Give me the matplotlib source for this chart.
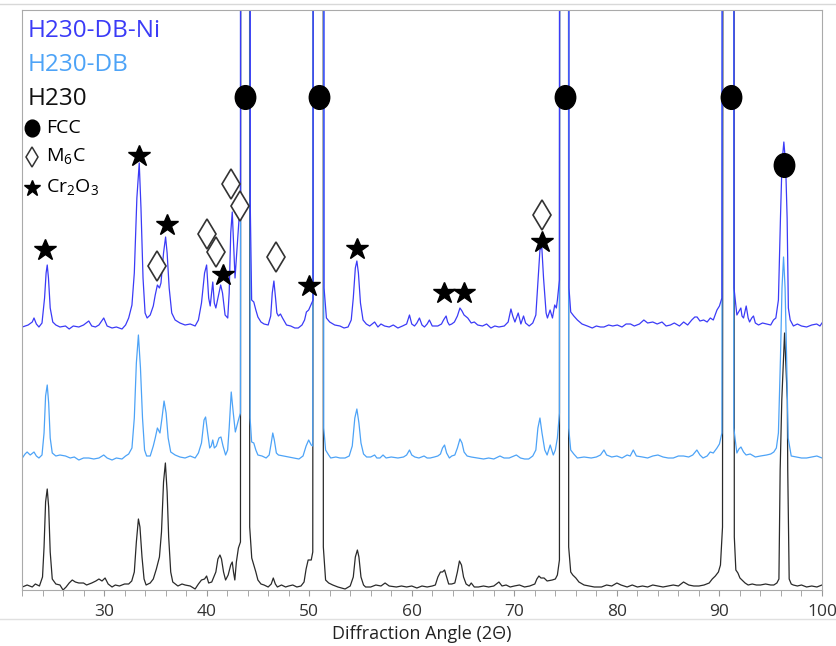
import matplotlib
matplotlib.use("Agg")
import matplotlib.pyplot as plt
from matplotlib.lines import Line2D
from matplotlib.markers import MarkerStyle
from matplotlib.transforms import Affine2D

plt.rcParams['font.family'] = ['Open Sans', 'DejaVu Sans']
plt.rcParams['mathtext.fontset'] = 'custom'
plt.rcParams['mathtext.rm'] = 'Open Sans'

# (2theta, intensity above own baseline)
H230_DB_NI = [
    (22.03, 1), (22.6, 3), (23.0, 6), (23.17, 10), (23.4, 4), (23.65, 1), (23.95, 5),
    (24.2, 30), (24.35, 55), (24.46, 63), (24.58, 50), (24.75, 20), (25.0, 6), (25.3, 3),
    (25.7, 1), (26.24, 2), (26.6, -1), (27.0, 2), (27.54, 1), (28.0, 3), (28.51, 7), (28.8, 2),
    (29.16, 1), (29.5, 3), (29.97, 10), (30.3, 2), (30.78, 0), (31.2, 1), (31.75, -1), (32.1, 3),
    (32.4, 10), (32.72, 23), (32.95, 55), (33.2, 130), (33.43, 165), (33.6, 120), (33.8, 50),
    (34.0, 15), (34.2, 10), (34.5, 13), (34.8, 22), (34.99, 33), (35.2, 43), (35.4, 40),
    (35.55, 45), (35.8, 75), (36.0, 91), (36.15, 75), (36.35, 40), (36.6, 15), (36.93, 8),
    (37.4, 5), (37.9, 3), (38.4, 4), (38.88, 2), (39.2, 8), (39.5, 25), (39.8, 55), (40.0, 63),
    (40.2, 30), (40.35, 22), (40.6, 46), (40.75, 25), (40.9, 20), (41.2, 35), (41.37, 43),
    (41.55, 35), (41.8, 13), (42.06, 10), (42.2, 35), (42.35, 95), (42.5, 116), (42.65, 80),
    (42.77, 50), (42.9, 70), (43.1, 101), (43.3, 130), (43.36, 3000), (44.2, 3000), (44.26, 120),
    (44.39, 28), (44.6, 26), (44.8, 18), (45.0, 11), (45.3, 6), (45.6, 4), (46.0, 3), (46.25, 12),
    (46.4, 35), (46.56, 47), (46.72, 30), (46.85, 15), (47.0, 12), (47.2, 14), (47.4, 10),
    (47.79, 3), (48.2, 2), (48.6, 0), (48.93, 0), (49.3, 3), (49.55, 8), (49.73, 16), (49.95, 18),
    (50.16, 23), (50.38, 28), (50.48, 3000), (51.4, 3000), (51.45, 40), (51.68, 10), (52.0, 6),
    (52.49, 3), (53.0, 2), (53.4, 0), (53.79, 1), (54.1, 8), (54.3, 30), (54.5, 60), (54.65, 67),
    (54.8, 55), (55.0, 25), (55.25, 8), (55.57, 4), (55.9, 2), (56.38, 6), (56.7, 1), (57.0, 4),
    (57.35, 2), (57.8, 1), (58.2, 3), (58.65, 0), (59.1, 2), (59.5, 4), (59.78, 13), (60.0, 4),
    (60.27, 2), (60.5, 5), (60.75, 10), (61.0, 3), (61.24, 1), (61.5, 4), (61.72, 8), (62.0, 2),
    (62.54, 2), (62.9, 4), (63.1, 8), (63.35, 12), (63.5, 6), (63.67, 3), (63.9, 4), (64.16, 6),
    (64.45, 12), (64.7, 20), (64.9, 17), (65.1, 13), (65.46, 10), (65.8, 5), (66.1, 6),
    (66.43, 3), (66.9, 2), (67.3, 4), (67.72, 0), (68.1, 2), (68.5, 1), (69.02, 2), (69.4, 6),
    (69.67, 19), (69.85, 12), (70.06, 6), (70.38, 15), (70.64, 4), (70.9, 12), (71.1, 5),
    (71.45, 2), (71.8, 5), (72.1, 13), (72.3, 45), (72.5, 78), (72.68, 81), (72.85, 50),
    (72.97, 33), (73.1, 15), (73.23, 10), (73.49, 18), (73.72, 10), (73.94, 23), (74.1, 20),
    (74.2, 28), (74.4, 48), (74.47, 3000), (75.28, 3000), (75.33, 40), (75.5, 16), (75.8, 12),
    (76.15, 8), (76.6, 4), (77.12, 2), (77.6, 0), (78.0, 2), (78.4, 1), (78.74, 1), (79.2, 3),
    (79.6, 2), (80.04, 3), (80.5, 1), (80.9, 4), (81.33, 4), (81.7, 2), (82.2, 4), (82.63, 8),
    (83.0, 5), (83.5, 6), (83.93, 4), (84.4, 6), (84.8, 2), (85.22, 3), (85.6, 5), (86.1, 2),
    (86.51, 6), (86.9, 3), (87.3, 8), (87.6, 11), (87.82, 11), (88.1, 7), (88.46, 8), (88.8, 6),
    (89.11, 10), (89.4, 8), (89.76, 18), (90.0, 22), (90.24, 30), (90.44, 3000), (91.36, 3000),
    (91.42, 40), (91.7, 13), (92.09, 20), (92.2, 12), (92.35, 10), (92.61, 22), (92.8, 10),
    (92.94, 6), (93.15, 10), (93.32, 12), (93.5, 5), (93.81, 3), (94.2, 5), (94.62, 4), (95.0, 3),
    (95.27, 8), (95.5, 10), (95.75, 28), (95.95, 110), (96.1, 165), (96.28, 186), (96.45, 165),
    (96.6, 110), (96.72, 20), (96.9, 8), (97.21, 2), (97.6, 4), (98.0, 2), (98.5, 1), (99.0, 3),
    (99.48, 4), (99.8, 2), (100, 5),
]

H230_DB = [
    (22.03, 0), (22.3, 4), (22.5, 6), (22.8, 3), (23.17, 6), (23.4, 2), (23.65, 0), (23.95, 3),
    (24.15, 25), (24.3, 62), (24.46, 73), (24.6, 55), (24.75, 20), (24.95, 5), (25.3, 2),
    (25.7, 3), (26.24, 2), (26.7, 0), (27.1, 1), (27.54, -2), (28.0, 0), (28.51, 0), (29.0, -1),
    (29.5, 0), (29.97, 3), (30.3, 0), (30.78, -2), (31.2, 0), (31.75, -1), (32.1, 2), (32.4, 4),
    (32.72, 10), (32.95, 40), (33.15, 95), (33.35, 123), (33.55, 90), (33.75, 40), (33.95, 8),
    (34.15, 2), (34.5, 2), (34.8, 12), (34.99, 20), (35.2, 30), (35.45, 25), (35.65, 40),
    (35.85, 57), (36.05, 45), (36.25, 20), (36.5, 6), (36.93, 3), (37.4, 1), (37.9, 0),
    (38.4, 2), (38.88, 0), (39.2, 5), (39.5, 15), (39.75, 38), (39.9, 41), (40.1, 25),
    (40.3, 10), (40.45, 12), (40.6, 18), (40.75, 10), (40.95, 12), (41.2, 20), (41.4, 21),
    (41.6, 12), (41.85, 3), (42.05, 8), (42.2, 30), (42.4, 66), (42.6, 45), (42.8, 26),
    (42.95, 32), (43.1, 38), (43.3, 45), (43.38, 3000), (44.18, 3000), (44.24, 40), (44.39, 16),
    (44.6, 15), (44.8, 8), (45.0, 3), (45.4, 2), (45.8, 0), (46.1, 3), (46.3, 15), (46.45, 25),
    (46.6, 18), (46.8, 5), (47.0, 3), (47.5, 2), (48.0, 1), (48.5, 0), (49.0, -1), (49.4, 2),
    (49.7, 12), (49.95, 18), (50.2, 13), (50.35, 12), (50.5, 3000), (51.37, 3000), (51.42, 30),
    (51.6, 8), (51.9, 3), (52.1, 0), (52.6, 1), (53.0, 0), (53.5, 0), (53.9, 2), (54.2, 12),
    (54.45, 40), (54.65, 49), (54.85, 35), (55.05, 15), (55.3, 4), (55.6, 1), (56.0, 1),
    (56.38, 3), (56.6, 0), (56.9, 0), (57.2, 3), (57.5, 0), (58.0, 1), (58.65, 0), (59.2, 1),
    (59.5, 3), (59.78, 8), (60.0, 3), (60.3, 1), (60.7, 0), (61.2, 2), (61.5, 0), (61.8, 0),
    (62.2, 1), (62.54, 2), (62.8, 4), (63.0, 10), (63.2, 13), (63.4, 5), (63.67, 0), (63.9, 2),
    (64.2, 3), (64.45, 10), (64.7, 19), (64.9, 15), (65.1, 6), (65.4, 2), (65.8, 1), (66.43, 0),
    (67.0, -1), (67.5, 0), (68.0, -1), (68.6, 2), (69.0, 0), (69.5, 0), (70.2, 3), (70.6, 0),
    (71.0, -1), (71.4, -1), (71.8, 2), (72.1, 8), (72.3, 30), (72.5, 40), (72.7, 25),
    (72.97, 8), (73.2, 3), (73.5, 13), (73.8, 3), (74.0, 8), (74.2, 20), (74.4, 45),
    (74.49, 3000), (75.26, 3000), (75.3, 30), (75.5, 8), (75.8, 4), (76.15, 0), (76.8, 1),
    (77.5, 0), (78.0, 1), (78.4, 3), (78.74, 8), (79.0, 3), (79.5, 1), (80.0, 2), (80.5, 0),
    (81.0, 3), (81.3, 2), (81.6, 8), (81.9, 2), (82.5, 1), (83.0, 0), (83.5, 2), (84, 3),
    (84.5, 1), (85.0, 0), (85.5, 0), (86.0, 2), (86.5, 2), (87.0, 1), (87.4, 3), (87.8, 8),
    (88.1, 3), (88.4, 0), (88.8, 2), (89.1, 6), (89.4, 5), (89.76, 10), (90.0, 14), (90.24, 25),
    (90.46, 3000), (91.34, 3000), (91.4, 30), (91.7, 5), (91.9, 9), (92.1, 11), (92.35, 6),
    (92.6, 3), (93.0, 4), (93.5, 1), (94.0, 2), (94.6, 3), (95.0, 4), (95.3, 6), (95.55, 10),
    (95.75, 25), (95.95, 100), (96.1, 170), (96.25, 201), (96.4, 170), (96.55, 100), (96.7, 20),
    (97.0, 2), (97.5, 1), (98.0, 0), (98.5, 0), (99.0, 1), (99.5, 2), (100, 0),
]

H230 = [
    (22.03, 0), (22.5, 2), (23.0, 0), (23.3, 3), (23.7, 1), (24.0, 10), (24.15, 40), (24.3, 85),
    (24.46, 98), (24.6, 80), (24.75, 35), (24.95, 8), (25.3, 3), (25.7, 2), (26.0, -3),
    (26.3, 0), (26.6, 4), (26.9, 7), (27.2, 5), (27.54, 4), (28.0, 4), (28.3, 2), (28.8, 4),
    (29.2, 6), (29.5, 8), (29.8, 6), (30.1, 9), (30.4, 3), (30.78, 0), (31.1, 2), (31.5, 1),
    (32.0, 3), (32.4, 3), (32.7, 6), (32.95, 15), (33.15, 45), (33.35, 68), (33.5, 60),
    (33.7, 30), (33.9, 8), (34.1, 2), (34.5, 4), (34.8, 8), (35.1, 18), (35.4, 30), (35.6, 55),
    (35.8, 105), (35.98, 124), (36.15, 95), (36.3, 50), (36.5, 15), (36.7, 5), (37.2, 1),
    (37.6, 3), (37.9, 2), (38.4, 1), (38.88, -2), (39.2, 3), (39.5, 7), (39.8, 8), (40.0, 11),
    (40.2, 4), (40.5, 5), (40.9, 15), (41.1, 28), (41.3, 32), (41.45, 28), (41.65, 15),
    (41.85, 7), (42.1, 12), (42.35, 22), (42.5, 25), (42.62, 15), (42.75, 7), (42.9, 25),
    (43.1, 39), (43.3, 45), (43.42, 3000), (44.15, 3000), (44.2, 60), (44.4, 29), (44.6, 22),
    (44.8, 15), (45.0, 7), (45.3, 3), (45.6, 2), (46.0, 0), (46.3, 3), (46.5, 9), (46.7, 3),
    (46.9, 0), (47.3, 2), (47.7, 0), (48.0, 1), (48.4, 2), (48.8, 0), (49.2, 1), (49.5, 5),
    (49.7, 18), (49.9, 27), (50.2, 27), (50.35, 35), (50.52, 3000), (51.33, 3000), (51.38, 40),
    (51.6, 7), (51.9, 4), (52.3, 2), (52.8, 0), (53.5, -2), (54.0, 1), (54.3, 10), (54.5, 30),
    (54.7, 37), (54.85, 30), (55.05, 10), (55.3, 2), (55.5, 0), (56.0, 0), (56.5, 2), (57.0, 1),
    (57.4, 4), (57.8, 1), (58.5, 0), (59.0, 1), (59.5, 0), (60, 1), (60.5, -1), (61.0, 1),
    (61.5, 0), (62.0, 1), (62.3, 2), (62.55, 10), (62.8, 15), (63.0, 15), (63.2, 17),
    (63.4, 10), (63.6, 3), (63.9, 3), (64.2, 4), (64.45, 15), (64.65, 26), (64.85, 22),
    (65.05, 10), (65.3, 3), (65.6, 1), (65.8, 4), (66.1, 0), (66.5, 0), (67.0, 1), (67.5, 0),
    (68.0, 1), (68.5, 5), (68.8, 1), (69.2, 2), (69.6, 0), (70, 1), (70.5, 2), (71.0, 0),
    (71.5, 1), (72.0, 3), (72.2, 8), (72.4, 11), (72.6, 9), (72.9, 9), (73.2, 6), (73.7, 7),
    (74.0, 8), (74.2, 12), (74.4, 27), (74.51, 3000), (75.24, 3000), (75.3, 40), (75.5, 15),
    (75.7, 12), (76.0, 9), (76.3, 5), (76.8, 2), (77.3, 1), (77.8, 0), (78.5, 0), (79.0, 2),
    (79.5, 1), (80.0, 4), (80.4, 2), (81.0, 0), (81.5, 2), (82, 0), (82.5, 1), (83.0, 0),
    (83.5, 2), (84, 1), (84.5, 0), (85.0, 1), (85.5, 2), (86.0, 1), (86.5, 5), (87.0, 2),
    (87.5, 1), (88.0, 1), (88.5, 2), (89.0, 4), (89.3, 8), (89.6, 11), (89.9, 15), (90.1, 22),
    (90.3, 60), (90.48, 3000), (91.32, 3000), (91.45, 50), (91.6, 17), (91.8, 14), (92.0, 9),
    (92.2, 7), (92.5, 4), (92.8, 2), (93.2, 3), (93.6, 2), (94.0, 2), (94.5, 3), (95.0, 2),
    (95.3, 2), (95.6, 4), (95.8, 8), (95.92, 117), (96.08, 187), (96.35, 254), (96.62, 187),
    (96.66, 117), (96.8, 8), (97.0, 3), (97.2, 2), (97.6, 1), (98.0, 2), (98.5, 0), (99.0, 1),
    (99.5, 0), (100, 2),
]

# vertical stacking offsets
OFFSETS = {'H230': 3, 'H230-DB': 132, 'H230-DB-Ni': 262}

# phase markers (2theta, height)
fcc_x = [43.71, 51.0, 74.92, 91.15, 96.3]
fcc_y = [493, 493, 493, 493, 425]
m6c_x = [35.15, 40.01, 40.89, 42.35, 43.22, 46.72, 72.68]
m6c_y = [324, 356, 338, 406, 384, 333, 375]
cr2o3_x = [24.26, 33.4, 36.12, 41.57, 50.03, 54.69, 63.15, 65.1, 72.68]
cr2o3_y = [340, 434, 365, 315, 304, 341, 297, 297, 348]

BLUE = '#3b3bf7'
LIGHT = '#4da3f7'
DARK = '#2a2a2a'

# slightly tall circle, as in the original slide
tall_circle = MarkerStyle('o', transform=Affine2D().scale(0.95, 1.1))

fig = plt.figure(figsize=(8.37, 6.46), dpi=100)
ax = fig.add_axes([22 / 837, 1 - 590 / 646, 800 / 837, 580 / 646])

for name, data, color in [('H230', H230, DARK), ('H230-DB', H230_DB, LIGHT),
                          ('H230-DB-Ni', H230_DB_NI, BLUE)]:
    xs = [p[0] for p in data]
    ys = [p[1] + OFFSETS[name] for p in data]
    ax.plot(xs, ys, color=color, lw=0.9)

ax.plot(fcc_x, fcc_y, marker=tall_circle, color='black', ms=15.5, ls='none', zorder=5)
ax.plot(m6c_x, m6c_y, 'd', mfc='white', mec='#333333', mew=1.2, ms=15, ls='none', zorder=5)
ax.plot(cr2o3_x, cr2o3_y, '*', color='black', ms=16.5, ls='none', zorder=5)

ax.set_xlim(22, 100)
ax.set_ylim(0, 580)
ax.set_yticks([])
ax.set_xticks(range(30, 101, 10))
ax.set_xticks(range(22, 101, 2), minor=True)
ax.tick_params(axis='x', which='both', length=4, color='#999999', labelsize=12.5,
               labelcolor='#333333', pad=6)
for s in ax.spines.values():
    s.set_color('#aaaaaa')
ax.set_xlabel('Diffraction Angle (2Θ)', fontsize=13, color='#222222', labelpad=4)

# sample labels
ax.text(0.007, 0.963, 'H230-DB-Ni', transform=ax.transAxes, color=BLUE, fontsize=17.5,
        va='center')
ax.text(0.007, 0.905, 'H230-DB', transform=ax.transAxes, color=LIGHT, fontsize=17.5,
        va='center')
ax.text(0.007, 0.847, 'H230', transform=ax.transAxes, color='#111111', fontsize=17.5,
        va='center')

# phase key
ax.plot([0.0125], [0.797], marker=tall_circle, color='black', ms=11, transform=ax.transAxes)
ax.plot([0.0125], [0.7466], 'd', mfc='white', mec='#333333', mew=1.1, ms=10.5,
        transform=ax.transAxes)
ax.plot([0.0125], [0.693], '*', color='black', ms=12, transform=ax.transAxes)
ax.text(0.03, 0.797, 'FCC', transform=ax.transAxes, fontsize=14, va='center')
ax.text(0.03, 0.7466, r'M$_\mathregular{6}$C', transform=ax.transAxes, fontsize=14,
        va='center')
ax.text(0.03, 0.693, r'Cr$_\mathregular{2}$O$_\mathregular{3}$', transform=ax.transAxes,
        fontsize=14, va='center')

# faint slide border lines
fig.add_artist(Line2D([0, 1], [1 - 4 / 646, 1 - 4 / 646], color='#d8d8d8', lw=1))
fig.add_artist(Line2D([0, 1], [1 - 619 / 646, 1 - 619 / 646], color='#e0e0e0', lw=1))

fig.savefig('out.png', dpi=100)
